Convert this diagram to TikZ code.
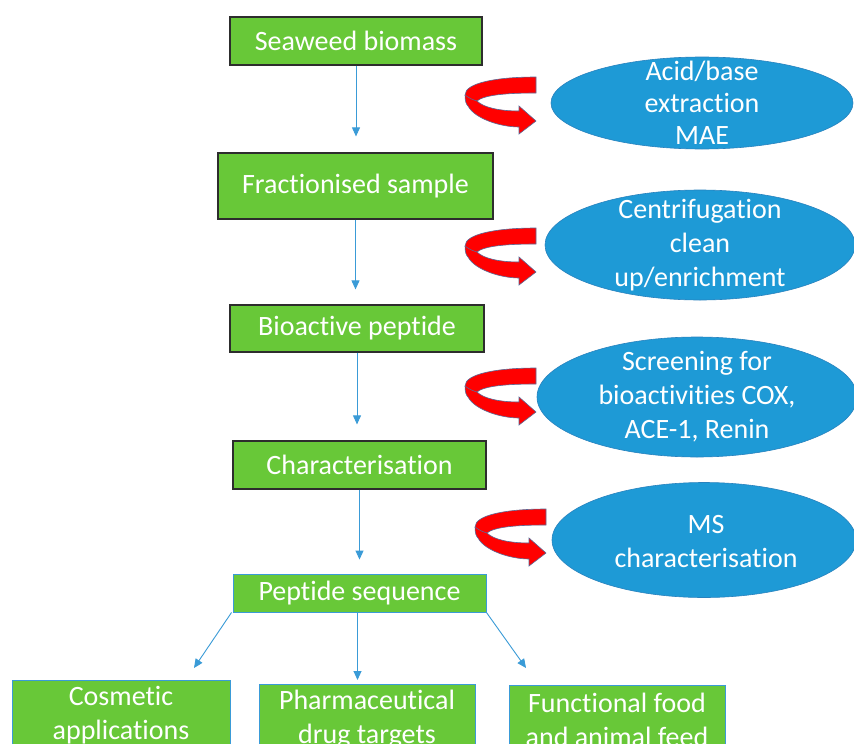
\documentclass[tikz,border=0pt]{standalone}
\usepackage{fontspec}
\setmainfont{Carlito}[Ligatures=NoCommon]
\usetikzlibrary{arrows.meta,shapes.geometric}
\definecolor{boxgreen}{RGB}{104,200,56}
\definecolor{ellblue}{RGB}{30,154,214}
\definecolor{elledge}{RGB}{40,130,190}
\definecolor{linkblue}{RGB}{58,155,215}
\definecolor{boxedge}{RGB}{45,45,45}
\definecolor{arrowred}{RGB}{255,0,0}
\definecolor{arrowedge}{RGB}{90,105,150}
\tikzset{
  bigtext/.style={text=white, font=\fontsize{28}{34}\selectfont, align=center},
  stepbox/.style={bigtext, draw=boxedge, line width=1.2pt, fill=boxgreen, inner sep=0pt},
  outbox/.style={stepbox, draw=linkblue, line width=0.9pt},
  blob/.style={ellipse, draw=elledge, line width=0.6pt, fill=ellblue, inner sep=0pt},
  blobtext/.style={bigtext, inner sep=0pt},
  link/.style={draw=linkblue, line width=0.9pt, -{Triangle[width=8pt,length=9pt]}},
  turnarrow/.pic={
    \path[fill=arrowred, draw=arrowedge, line width=0.6pt]
      (0,-44) .. controls (-40,-44) and (-71,-38) .. (-71,-26)
      .. controls (-71,-20) and (-70,-17) .. (-68,-15)
      .. controls (-61,-2) and (-35,6) .. (-17,6)
      -- (-17,13) -- (0,0) -- (-17,-15) -- (-17,-10)
      .. controls (-35,-10) and (-52,-13) .. (-59,-20)
      .. controls (-52,-26) and (-30,-28) .. (0,-28) -- cycle;
    \draw[arrowedge, line width=0.6pt] (-71,-26) .. controls (-66,-22) and (-62,-21) .. (-59,-20);
  }
}
\begin{document}
\begin{tikzpicture}[x=1pt, y=-1pt]
\useasboundingbox (0,0) rectangle (854,744);
\clip (0,0) rectangle (854,744);
\fill[white] (0,0) rectangle (854,744);

% main column
\node[stepbox, minimum width=252pt, minimum height=48pt] (sb) at (356,41) {Seaweed biomass};
\node[stepbox, minimum width=275pt, minimum height=66pt] (fs) at (355.5,186) {Fractionised sample};
\node[stepbox, minimum width=254pt, minimum height=47pt] (bp) at (357,328.5) {Bioactive peptide};
\node[stepbox, minimum width=253pt, minimum height=48pt] (ch) at (359.5,465) {Characterisation};
\node[outbox, minimum width=253pt, minimum height=38pt] (ps) at (359.5,593) {Peptide sequence};

% bottom row
\node[outbox, anchor=north, minimum width=218pt, minimum height=70pt] (cos) at (121,680) {Cosmetic\\applications};
\node[outbox, anchor=north, minimum width=216pt, minimum height=70pt] (pha) at (367,684) {Pharmaceutical\\drug targets};
\node[outbox, anchor=north, minimum width=216pt, minimum height=68pt] (fun) at (617,685) {Functional food\\and animal feed};

% ellipses
\node[blob, minimum width=302pt, minimum height=92pt] (e1) at (702,103) {};
\node[blobtext, font=\fontsize{28}{32}\selectfont] (t1) at (e1) {Acid/base\\extraction\\MAE};
\node[blob, minimum width=310pt, minimum height=110pt] (e2) at (700,245) {};
\node[blobtext] (t2) at (e2) {Centrifugation\\clean\\up/enrichment};
\node[blob, minimum width=320pt, minimum height=120pt] (e3) at (697,397) {};
\node[blobtext] (t3) at (e3) {Screening for\\bioactivities COX,\\ACE-1, Renin};
\node[blob, minimum width=304pt, minimum height=115pt] (e4) at (704,540) {};
\node[blobtext] (t4) at (706,542) {MS\\characterisation};

% red curved arrows
\pic at (536,121) {turnarrow};
\pic at (536,272) {turnarrow};
\pic at (536,412) {turnarrow};
\pic at (546,553) {turnarrow};

% connectors
\draw[link, shorten >=16pt] (sb.south) -- (sb.south |- fs.north);
\draw[link, shorten >=15pt] (fs.south) -- (fs.south |- bp.north);
\draw[link, shorten >=16pt] (bp.south) -- (bp.south |- ch.north);
\draw[link, shorten >=14pt] (ch.south) -- (ch.south |- ps.north);
\coordinate (c1) at (194,668);
\coordinate (c3) at (526,668);
\draw[link] ([xshift=-1pt]ps.south west) -- (c1);
\draw[link, shorten >=4pt] ([xshift=-2pt]ps.south) -- ([xshift=-2pt]ps.south |- pha.north);
\draw[link] (ps.south east) -- (c3);
\end{tikzpicture}
\end{document}
